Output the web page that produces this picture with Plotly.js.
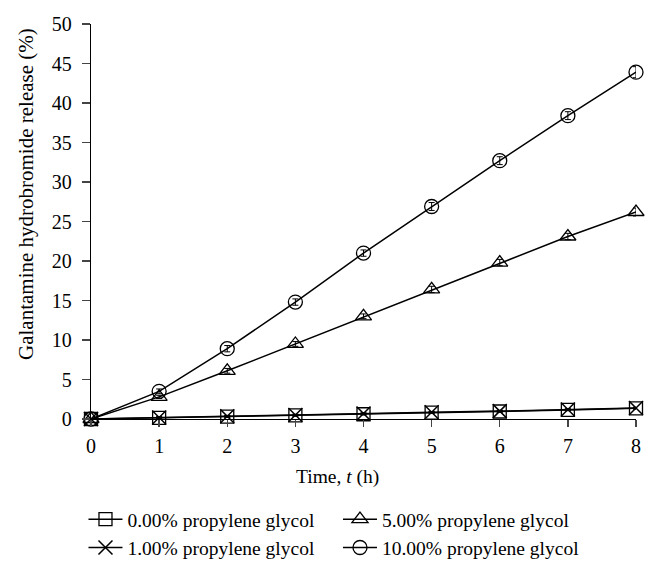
<!DOCTYPE html>
<html><head><meta charset="utf-8">
<script src="https://cdn.plot.ly/plotly-3.0.1.min.js"></script>
<style>body{margin:0;background:#fff}#c{width:658px;height:573px}</style>
</head><body><div id="c"></div>
<script>
const time = [0,1,2,3,4,5,6,7,8];
const pg000 = [0,0.15,0.3,0.45,0.6,0.8,0.95,1.15,1.35];
const pg100 = [0,0.2,0.35,0.5,0.7,0.85,1.0,1.2,1.4];
const pg500 = [0,2.8,6.1,9.5,13.0,16.4,19.8,23.1,26.2];
const pg1000 = [0,3.5,8.9,14.8,21.0,26.9,32.7,38.4,43.9];
const err000 = [0,0.1,0.1,0.1,0.1,0.1,0.1,0.1,0.1];
const err100 = [0,0.1,0.1,0.1,0.1,0.1,0.1,0.1,0.1];
const err500 = [0,0.2,0.3,0.3,0.3,0.4,0.4,0.4,0.5];
const err1000 = [0,0.3,0.4,0.4,0.4,0.5,0.5,0.5,0.7];
const names = ['0.00% propylene glycol','1.00% propylene glycol','5.00% propylene glycol','10.00% propylene glycol'];
const xTitle = 'Time, <i>t</i> (h)';
const yTitle = 'Galantamine hydrobromide release (%)';

const F = 'Liberation Serif, Times New Roman, serif';
const FS = 19.5;
function tr(y, e, name, sym, rank){
  return {x: time, y: y, name: name, type:'scatter', mode:'lines+markers',
    line:{color:'#000', width:1.5},
    marker:{symbol:sym, size:14, color:'#000', line:{color:'#000', width:1.3}},
    error_y:{type:'data', array:e, visible:true, color:'#000', thickness:1, width:3},
    cliponaxis:false, legendrank: rank};
}
const data = [
  tr(pg000, err000, names[0], 'square-open', 1),
  tr(pg100, err100, names[1], 'x-thin-open', 3),
  tr(pg500, err500, names[2], 'triangle-up-open', 2),
  tr(pg1000, err1000, names[3], 'circle-open', 4)
];
data[0].marker.size = 13;
data[1].marker.line.width = 1.5;
const layout = {
  width:658, height:573,
  margin:{l:91, r:22, t:24, b:154, autoexpand:false},
  paper_bgcolor:'#fff', plot_bgcolor:'#fff',
  font:{family:F, size:FS, color:'#000'},
  showlegend:true,
  legend:{orientation:'h', x:-0.0138, xanchor:'left', y:-0.205, yanchor:'top',
    entrywidth:205.5, entrywidthmode:'pixels', font:{family:F, size:FS, color:'#000'},
    itemwidth:34, tracegroupgap:0, bgcolor:'rgba(0,0,0,0)'},
  xaxis:{range:[0,8], tickvals:time, ticks:'outside', ticklen:7, tickwidth:1.3,
    showline:true, linecolor:'#000', linewidth:1.3, showgrid:false, zeroline:false,
    tickfont:{family:F, size:20}, ticklabelstandoff:2, automargin:false},
  yaxis:{range:[0,50], dtick:5, ticks:'outside', ticklen:8, tickwidth:1.3,
    showline:true, linecolor:'#000', linewidth:1.3, showgrid:false, zeroline:false,
    tickfont:{family:F, size:20}, ticklabelstandoff:6, automargin:false},
  annotations:[
    {text:xTitle, xref:'paper', yref:'paper', x:(337-91)/545, y:(419-477)/395,
     xanchor:'center', yanchor:'middle', showarrow:false, font:{family:F, size:FS}},
    {text:yTitle, xref:'paper', yref:'paper', x:(26-91)/545, y:(419-194)/395,
     xanchor:'center', yanchor:'middle', textangle:-90, showarrow:false, font:{family:F, size:21}}
  ]
};
Plotly.newPlot('c', data, layout, {displayModeBar:false, staticPlot:true});
</script></body></html>
